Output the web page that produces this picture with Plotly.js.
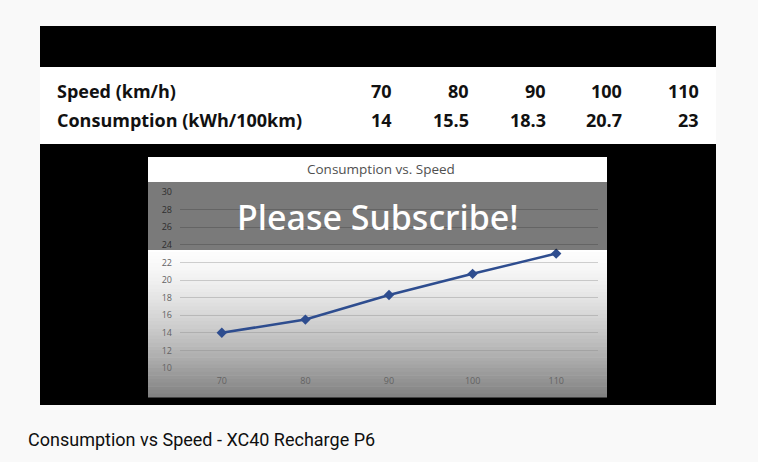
<!DOCTYPE html>
<html>
<head>
<meta charset="utf-8">
<script src="https://cdn.plot.ly/plotly-3.0.1.min.js"></script>
<style>html,body{margin:0;padding:0;background:#f9f9f9;}#chart{width:758px;height:462px;}</style>
</head>
<body>
<div id="chart"></div>
<script>
// ---- data ----
const speeds = ["70", "80", "90", "100", "110"];
const consumption = [14, 15.5, 18.3, 20.7, 23];
const tableRowLabels = ["Speed (km/h)", "Consumption (kWh/100km)"];
const tableSpeedText = ["70", "80", "90", "100", "110"];
const tableConsText = ["14", "15.5", "18.3", "20.7", "23"];
const chartTitle = "Consumption vs. Speed";
const overlayText = "Please Subscribe!";
const videoTitle = "Consumption vs Speed - XC40 Recharge P6";

// ---- layout geometry (pixels) ----
const W = 758, H = 462;
const L = 180, R = 598, T = 192, B = 368;
const px = x => (x - L) / (R - L);
const py = y => (B - y) / (B - T);

const shapes = [];
function rect(x0, y0, x1, y1, color, layer, opacity) {
  shapes.push({type: 'rect', xref: 'paper', yref: 'paper',
    x0: px(x0), x1: px(x1), y0: py(y1), y1: py(y0),
    fillcolor: color, line: {width: 0}, layer: layer || 'below', opacity: opacity == null ? 1 : opacity});
}
rect(40, 26, 716, 405, '#000000');
rect(40, 67, 716, 144, '#ffffff');
rect(148, 157, 607, 397, '#ffffff');
// vignette gradient in chart box
const y0g = 252, y1g = 397, steps = 40;
for (let i = 0; i < steps; i++) {
  const a = y0g + (y1g - y0g) * i / steps;
  const b = y0g + (y1g - y0g) * (i + 1) / steps;
  const t = (i + 0.5) / steps;
  const g = Math.round(252 - 125 * Math.pow(t, 1.45));
  rect(148, a, 607, b + 0.5, `rgb(${g},${g},${g})`);
}
// overlay band
rect(148, 182, 607, 250, '#000000', 'above', 0.52);

const annotations = [];
function ann(text, x, y, opts) {
  annotations.push(Object.assign({text: text, xref: 'paper', yref: 'paper',
    x: px(x), y: py(y), showarrow: false, yanchor: 'middle'}, opts));
}
const tblFont = {family: 'Open Sans, sans-serif', size: 18, color: '#111111'};
ann('<b>' + tableRowLabels[0] + '</b>', 55, 91, {xanchor: 'left', font: tblFont});
ann('<b>' + tableRowLabels[1] + '</b>', 55, 120, {xanchor: 'left', font: tblFont});
const colRight = [394, 471, 548, 624, 701];
for (let i = 0; i < colRight.length; i++) {
  ann('<b>' + tableSpeedText[i] + '</b>', colRight[i], 91, {xanchor: 'right', font: tblFont});
  ann('<b>' + tableConsText[i] + '</b>', colRight[i], 120, {xanchor: 'right', font: tblFont});
}
ann(chartTitle, 381, 169, {xanchor: 'center', font: {family: 'Open Sans, sans-serif', size: 13.5, color: '#505050'}});
ann(overlayText, 378, 217, {xanchor: 'center', font: {family: 'Noto Sans, Open Sans, sans-serif', size: 34, color: '#ffffff', weight: 500}});
ann(videoTitle, 26, 439, {xanchor: 'left', font: {family: 'Roboto, sans-serif', size: 18, color: '#0f0f0f'}});

const trace = {
  x: speeds, y: consumption, type: 'scatter', mode: 'lines+markers',
  line: {color: '#2e4d8f', width: 2.6},
  marker: {symbol: 'diamond', size: 8, color: '#2e4d8f'},
  hoverinfo: 'none', cliponaxis: false
};

const tickFont = {family: 'Open Sans, sans-serif', size: 9, color: '#636363'};
const layout = {
  width: W, height: H,
  margin: {l: L, r: W - R, t: T, b: H - B, pad: 0},
  paper_bgcolor: '#f9f9f9', plot_bgcolor: 'rgba(0,0,0,0)',
  showlegend: false,
  xaxis: {type: 'category', range: [-0.5, 4.5], showgrid: false, zeroline: false,
    showline: false, ticks: '', tickfont: tickFont, ticklabelstandoff: 6},
  yaxis: {range: [10, 30], dtick: 2, showgrid: true, gridcolor: 'rgba(140,140,140,0.4)', gridwidth: 1,
    zeroline: false, showline: false, ticks: '', tickfont: tickFont, ticklabelstandoff: 7},
  shapes: shapes, annotations: annotations
};
Plotly.newPlot('chart', [trace], layout, {staticPlot: true, displayModeBar: false});
</script>
</body>
</html>
